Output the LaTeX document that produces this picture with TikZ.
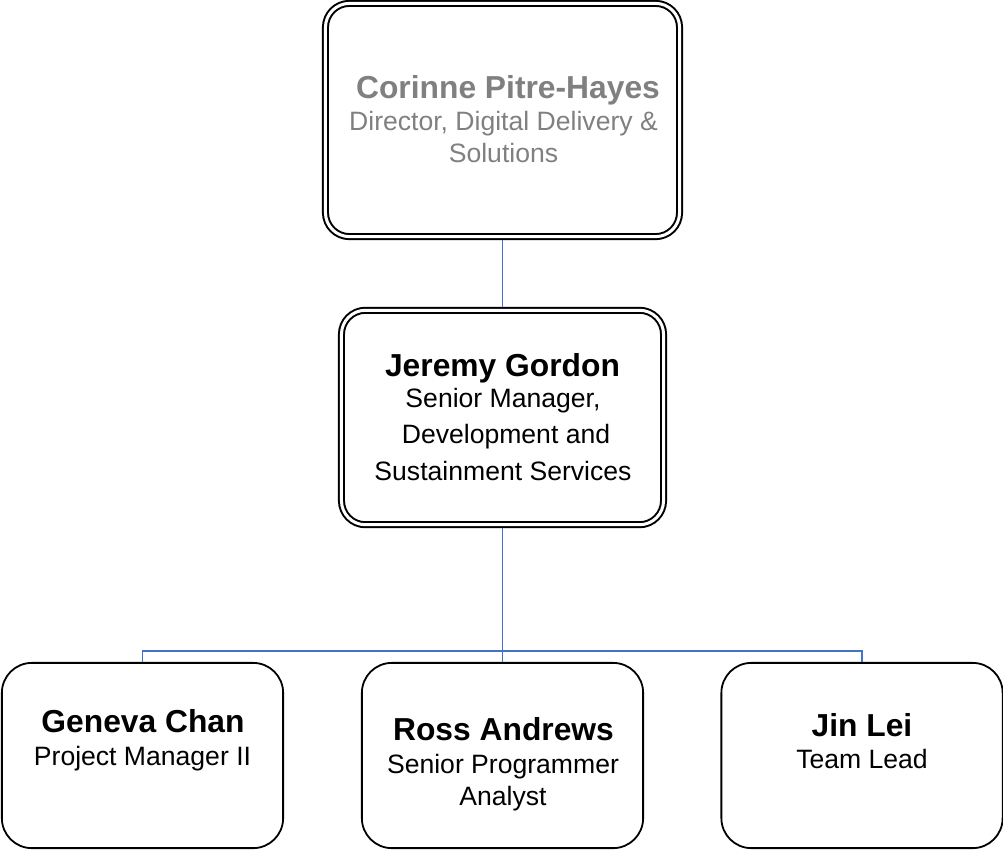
\documentclass[tikz,border=0pt]{standalone}
\usepackage{fontspec}
\setmainfont{Liberation Sans}
\usetikzlibrary{positioning}

\definecolor{linkblue}{RGB}{68,114,196}
\definecolor{headgray}{RGB}{128,128,128}

\begin{document}
\begin{tikzpicture}[x=0.025cm,y=-0.025cm,
	boss/.style={draw,double,double distance=0.075cm,line width=0.05cm,rounded corners=0.6cm,inner sep=0,outer sep=0.09cm},
	staff/.style={draw,line width=0.045cm,rounded corners=0.75cm,minimum width=7.03cm,minimum height=4.63cm,inner sep=0},
	link/.style={linkblue,line width=0.045cm},
	who/.style={anchor=base,font=\fontsize{22.6}{27}\selectfont\bfseries},
	role/.style={anchor=base,font=\fontsize{18.9}{23}\selectfont}]
	\useasboundingbox (0,0) rectangle (1003,849);
	%Director
	\node[boss,minimum width=8.85cm,minimum height=5.83cm] (corinne) at (502.5,120) {};
	\node[who,headgray] (corinneName) at (508,98) {Corinne Pitre-Hayes};
	\node[role,headgray] (corinneRole1) at (503.5,130) {Director, Digital Delivery \&};
	\node[role,headgray] (corinneRole2) at (503.5,162) {Solutions};
	%Senior manager
	\node[boss,minimum width=8.05cm,minimum height=5.36cm] (jeremy) at (502.5,417.5) {};
	\node[who] (jeremyName) at (502.5,376) {Jeremy Gordon};
	\node[role] (jeremyRole1) at (503,407) {Senior Manager,};
	\node[role] (jeremyRole2) at (506,443) {Development and};
	\node[role] (jeremyRole3) at (503,480) {Sustainment Services};
	%Staff
	\node[staff] (geneva) at (142.5,755.5) {};
	\node[who] (genevaName) at (143,732) {Geneva Chan};
	\node[role] (genevaRole) at (142.5,765) {Project Manager II};
	\node[staff] (ross) at (502.5,755.5) {};
	\node[who] (rossName) at (503.5,740) {Ross Andrews};
	\node[role] (rossRole1) at (503,773) {Senior Programmer};
	\node[role] (rossRole2) at (503,805) {Analyst};
	\node[staff] (jin) at (862,755.5) {};
	\node[who] (jinName) at (862,736) {Jin Lei};
	\node[role] (jinRole) at (862,768) {Team Lead};
	%Connectors
	\coordinate (bus) at (502.5,651);
	\draw[link] (corinne) -- (jeremy);
	\draw[link] (jeremy) -- (bus) -- (ross);
	\draw[link] (geneva.north) |- (bus) -| (jin.north);
\end{tikzpicture}
\end{document}
